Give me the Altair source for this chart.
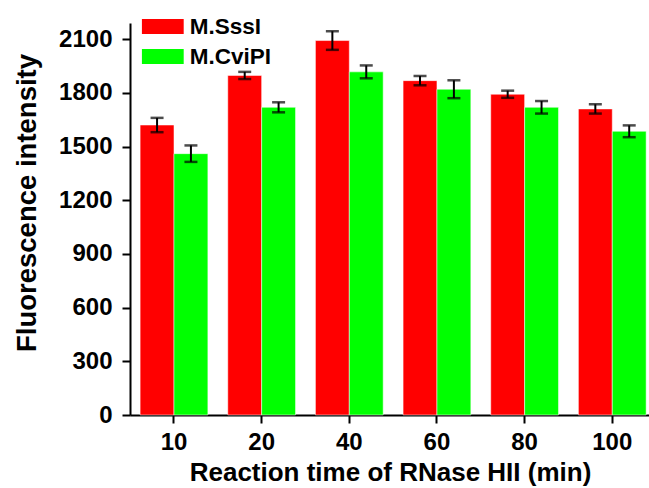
import altair as alt
import pandas as pd

FONT = "Liberation Sans"

times = ["10", "20", "40", "60", "80", "100"]
series = ["M.SssI", "M.CviPI"]
colors = ["#FF0000", "#00FF00"]
sssi = [1620, 1897, 2092, 1868, 1792, 1710]
sssi_err = [40, 20, 52, 26, 20, 26]
cvipi = [1460, 1719, 1917, 1820, 1719, 1585]
cvipi_err = [46, 28, 36, 50, 35, 33]
y_ticks = [0, 300, 600, 900, 1200, 1500, 1800, 2100]

rows = []
for s, vals, errs in [(series[0], sssi, sssi_err), (series[1], cvipi, cvipi_err)]:
    for t, v, e in zip(times, vals, errs):
        rows.append({"time": t, "series": s, "value": v, "lo": v - e, "hi": v + e})
df = pd.DataFrame(rows)

x_enc = alt.X(
    "time:N",
    sort=times,
    scale=alt.Scale(paddingInner=0.227, paddingOuter=0.074, align=0.78),
    axis=alt.Axis(
        labelAngle=0,
        domainColor="black", domainWidth=2,
        tickColor="black", tickWidth=2, tickSize=8,
        labelFont=FONT, labelFontSize=24, labelFontWeight="bold", labelColor="black",
        labelBaseline="alphabetic", labelPadding=26,
        title="Reaction time of RNase HII (min)",
        titleFont=FONT, titleFontSize=26, titleFontWeight="bold", titleColor="black",
        titleX=260, titleY=65, titleBaseline="alphabetic", titleAlign="center",
        grid=False,
    ),
)
xoff_enc = alt.XOffset("series:N", sort=series, scale=alt.Scale(paddingInner=0, paddingOuter=0))

base = alt.Chart(df).encode(x=x_enc, xOffset=xoff_enc)

bars = base.mark_bar(stroke="white", strokeWidth=1, strokeOpacity=0.5).encode(
    y=alt.Y(
        "value:Q",
        scale=alt.Scale(domain=[0, 2190], nice=False, zero=True),
        axis=alt.Axis(
            values=y_ticks, format="d",
            domainColor="black", domainWidth=2,
            tickColor="black", tickWidth=2, tickSize=8,
            labelFont=FONT, labelFontSize=24, labelFontWeight="bold", labelColor="black",
            labelPadding=10,
            title="Fluorescence intensity",
            titleFont=FONT, titleFontSize=27.5, titleFontWeight="bold", titleColor="black",
            titleX=-95, titleY=179.5, titleAngle=270, titleBaseline="alphabetic", titleAlign="center",
            grid=False,
        ),
    ),
    color=alt.Color(
        "series:N",
        sort=series,
        scale=alt.Scale(domain=series, range=colors),
        legend=alt.Legend(
            title=None, orient="none", legendX=11.7, legendY=-7.5,
            symbolType="M-1,-0.357L1,-0.357L1,0.357L-1,0.357Z",
            symbolSize=1764, symbolStrokeWidth=0, symbolOpacity=1,
            labelFont=FONT, labelFontSize=22.5, labelFontWeight="bold", labelColor="black",
            labelOffset=6, clipHeight=22, rowPadding=7, padding=0, labelLimit=300,
        ),
    ),
)

rules = base.mark_rule(color="black", strokeWidth=2).encode(y="lo:Q", y2="hi:Q")
caps_lo = base.mark_tick(color="black", thickness=2.5, size=13).encode(y="lo:Q")
caps_hi = base.mark_tick(color="black", thickness=2.5, size=13).encode(y="hi:Q")

chart = alt.layer(bars, rules, caps_lo, caps_hi).properties(
    width=519, height=392,
    autosize=alt.AutoSizeParams(type="none"),
    padding={"left": 130, "top": 23, "right": 0, "bottom": 73},
    background="white",
).configure_view(stroke=None)

chart.save("out.html", embed_options={"renderer": "svg", "actions": False})
